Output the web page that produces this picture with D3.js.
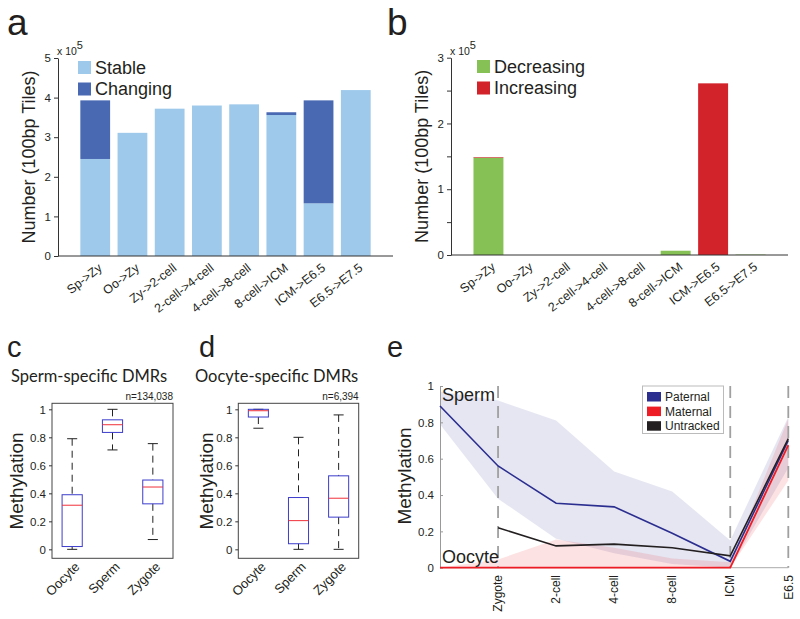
<!DOCTYPE html>
<html><head><meta charset="utf-8">
<script src="https://cdn.jsdelivr.net/npm/d3@7"></script>
<style>
body{margin:0;background:#fff}
svg{display:block}
text{font-family:"Liberation Sans",Arial,Helvetica,sans-serif;fill:#231f20}
</style>
</head><body>
<svg id="chart" width="800" height="619"></svg>
<script>
// ---------- DATA ----------
const transitions = ["Sp->Zy","Oo->Zy","Zy->2-cell","2-cell->4-cell","4-cell->8-cell","8-cell->ICM","ICM->E6.5","E6.5->E7.5"];
const stableTiles     = [2.45, 3.11, 3.72, 3.80, 3.83, 3.56, 1.33, 4.19];   // x 10^5
const changingTiles   = [1.48, 0, 0, 0, 0, 0.07, 2.60, 0];
const decreasingTiles = [1.48, 0, 0, 0, 0, 0.065, 0, 0.006];
const increasingTiles = [0.008, 0, 0, 0, 0, 0, 2.61, 0];
const aTicks = [0, 1, 2, 3, 4, 5];
const bTicks = [0, 0.5, 1, 1.5, 2, 2.5, 3];

const boxGroups = ["Oocyte", "Sperm", "Zygote"];
// [lower whisker, Q1, median, Q3, upper whisker]
const spermDMRStats  = [[0.00, 0.02, 0.315, 0.39, 0.79], [0.71, 0.835, 0.89, 0.925, 1.00], [0.07, 0.325, 0.445, 0.495, 0.755]];
const oocyteDMRStats = [[0.865, 0.945, 0.99, 1.00, 1.00], [0.00, 0.04, 0.205, 0.37, 0.80], [0.00, 0.23, 0.365, 0.525, 0.96]];
const boxTicks = [0, 0.2, 0.4, 0.6, 0.8, 1];

const stages = ["", "Zygote", "2-cell", "4-cell", "8-cell", "ICM", "E6.5"];
const dashedStages = ["Zygote", "ICM", "E6.5"];
const paternalMean  = [0.89, 0.56, 0.355, 0.335, 0.19, 0.035, 0.70];
const paternalUpper = [0.97, 0.92, 0.81, 0.53, 0.42, 0.15, 0.83];
const paternalLower = [0.79, 0.38, 0.16, 0.08, 0.02, 0.0, 0.55];
const maternalMean  = [0, 0, 0, 0, 0, 0, 0.675];
const maternalUpper = [0, 0.045, 0.155, 0.11, 0.05, 0.03, 0.82];
const maternalLower = [0, 0, 0, 0, 0, 0, 0.48];
const untrackedMean = [null, 0.22, 0.12, 0.13, 0.11, 0.065, 0.71];
const eTicks = [0, 0.2, 0.4, 0.6, 0.8, 1];
const eLegend = ["Paternal", "Maternal", "Untracked"];

// ---------- STYLE ----------
const C = {
  stable: "#9ec9eb", changing: "#4a69b3",
  decreasing: "#86c155", increasing: "#d2232a",
  box: "#3c3ccc", median: "#f0313a",
  paternal: "#2b2e8f", maternal: "#ee1c25", untracked: "#231f20",
  axis: "#333", gray: "#a0a0a0"
};
const svg = d3.select("#chart");

function panelLetter(t, x, y, size) {
  svg.append("text").attr("x", x).attr("y", y).attr("font-size", size).text(t);
}
function styleAxis(g, color) {
  g.selectAll("path,line").attr("stroke", color || C.axis).attr("stroke-width", 1);
  g.selectAll("text").attr("font-size", 11).attr("fill", "#333");
}

// ---------- PANEL A & B: stacked bars ----------
function barPanel(opt) {
  const x = d3.scaleLinear().domain([0, 9]).range([opt.x0, opt.x1]);
  const y = d3.scaleLinear().domain([0, opt.ymax]).range([opt.y0, opt.y1]);
  const bw = x(0.8) - x(0);
  const g = svg.append("g");
  transitions.forEach((t, i) => {
    const base = opt.bottom[i], top = opt.top[i];
    g.append("rect").attr("x", x(i + 1) - bw / 2).attr("width", bw)
      .attr("y", y(base)).attr("height", y(0) - y(base)).attr("fill", opt.colors[0]);
    if (top > 0) g.append("rect").attr("x", x(i + 1) - bw / 2).attr("width", bw)
      .attr("y", y(base + top)).attr("height", Math.max(y(base) - y(base + top), 0.6)).attr("fill", opt.colors[1]);
  });
  const ya = g.append("g").attr("transform", `translate(${opt.x0},0)`)
    .call(d3.axisLeft(y).tickValues(opt.ticks).tickSize(4).tickSizeOuter(0)
      .tickFormat(d => Number.isInteger(d) ? d : ""));
  styleAxis(ya);
  ya.selectAll("text").attr("font-size", 11.5);
  g.append("line").attr("x1", opt.x0).attr("x2", opt.x1).attr("y1", opt.y0).attr("y2", opt.y0)
    .attr("stroke", C.axis);
  transitions.forEach((t, i) => {
    g.append("text").attr("transform", `translate(${x(i + 1) + 5},${opt.y0 + 10}) rotate(-38)`)
      .attr("text-anchor", "end").attr("dy", "0.35em").attr("font-size", 12.5).attr("fill", "#333").text(t);
  });
  // multiplier
  const m = g.append("text").attr("x", opt.x0 - 1).attr("y", opt.y1 - 3).attr("font-size", 10.5).attr("fill", "#333");
  m.append("tspan").text("x 10");
  m.append("tspan").attr("dy", -6).attr("font-size", 11).text("5");
  // y label
  g.append("text").attr("transform", `translate(${opt.labelX},${(opt.y0 + opt.y1) / 2}) rotate(-90)`)
    .attr("text-anchor", "middle").attr("font-size", 18).text("Number (100bp Tiles)");
  // legend
  opt.legend.forEach((name, i) => {
    g.append("rect").attr("x", opt.legX).attr("y", opt.legY + i * 21.5).attr("width", 13).attr("height", 13)
      .attr("fill", opt.colors[i]);
    g.append("text").attr("x", opt.legX + 17).attr("y", opt.legY + 12.5 + i * 21.5).attr("font-size", 18).text(name);
  });
}

barPanel({ x0: 58, x1: 393, y0: 256, y1: 58, ymax: 5, ticks: aTicks,
  bottom: stableTiles, top: changingTiles, colors: [C.stable, C.changing],
  legend: ["Stable", "Changing"], legX: 78, legY: 61, labelX: 35 });
barPanel({ x0: 451, x1: 788, y0: 255, y1: 57.7, ymax: 3, ticks: bTicks,
  bottom: decreasingTiles, top: increasingTiles, colors: [C.decreasing, C.increasing],
  legend: ["Decreasing", "Increasing"], legX: 477, legY: 60, labelX: 428 });
panelLetter("a", 7, 35, 37);
panelLetter("b", 387, 35, 37);

// ---------- PANEL C & D: box plots ----------
function boxPanel(opt) {
  const x = d3.scaleLinear().domain([0.5, 3.5]).range([opt.x0, opt.x1]);
  const y = d3.scaleLinear().domain([-0.064, 1.043]).range([558.3, 403.3]);
  const g = svg.append("g");
  g.append("rect").attr("x", opt.x0).attr("y", y(1.043)).attr("width", opt.x1 - opt.x0)
    .attr("height", y(-0.064) - y(1.043)).attr("fill", "none").attr("stroke", "#444");
  const ya = g.append("g").attr("transform", `translate(${opt.x0},0)`)
    .call(d3.axisLeft(y).tickValues(boxTicks).tickSize(3).tickSizeOuter(0).tickFormat(d3.format("~g")));
  ya.select(".domain").remove();
  styleAxis(ya);
  ya.selectAll("text").attr("font-size", 11.5);
  const hw = x(0.75) - x(0.5), cw = x(0.625) - x(0.5);
  opt.stats.forEach((s, i) => {
    const cx = x(i + 1);
    const [lo, q1, md, q3, hi] = s;
    g.append("line").attr("x1", cx).attr("x2", cx).attr("y1", y(hi)).attr("y2", y(q3))
      .attr("stroke", "#222").attr("stroke-dasharray", "7,5");
    g.append("line").attr("x1", cx).attr("x2", cx).attr("y1", y(q1)).attr("y2", y(lo))
      .attr("stroke", "#222").attr("stroke-dasharray", "7,5");
    [lo, hi].forEach(v => g.append("line").attr("x1", cx - cw).attr("x2", cx + cw)
      .attr("y1", y(v)).attr("y2", y(v)).attr("stroke", "#222"));
    g.append("rect").attr("x", cx - hw).attr("width", 2 * hw).attr("y", y(q3))
      .attr("height", Math.max(y(q1) - y(q3), 0.5)).attr("fill", "none").attr("stroke", C.box);
    g.append("line").attr("x1", cx - hw).attr("x2", cx + hw).attr("y1", y(md)).attr("y2", y(md))
      .attr("stroke", C.median);
    g.append("text").attr("transform", `translate(${cx + 5},${y(-0.064) + 6}) rotate(-45)`)
      .attr("text-anchor", "end").attr("dy", "0.35em").attr("font-size", 13).text(boxGroups[i]);
  });
  g.append("text").attr("x", opt.x1).attr("y", 400).attr("text-anchor", "end").attr("font-size", 10)
    .attr("fill", "#333").text(opt.n);
  g.append("text").attr("x", opt.titleX).attr("y", 382).attr("font-size", 16.5)
    .style("font-family", "Lato, 'Open Sans', sans-serif").text(opt.title);
  g.append("text").attr("transform", `translate(${opt.labelX},481) rotate(-90)`)
    .attr("text-anchor", "middle").attr("font-size", 19).text("Methylation");
}
boxPanel({ x0: 52, x1: 173, stats: spermDMRStats, n: "n=134,038", title: "Sperm-specific DMRs", titleX: 11, labelX: 23 });
boxPanel({ x0: 238.3, x1: 358.7, stats: oocyteDMRStats, n: "n=6,394", title: "Oocyte-specific DMRs", titleX: 195, labelX: 213 });
panelLetter("c", 7, 357, 29);
panelLetter("d", 199, 357, 29);
panelLetter("e", 387, 357, 29);

// ---------- PANEL E: trajectories ----------
(function () {
  const x = d3.scaleLinear().domain([0, 6]).range([440, 788.3]);
  const y = d3.scaleLinear().domain([0, 1]).range([567.7, 386]);
  const g = svg.append("g");
  const area = (up, lo) => d3.area().x((d, i) => x(i)).y0((d, i) => y(lo[i])).y1((d, i) => y(up[i]))(up);
  g.append("path").attr("d", area(paternalUpper, paternalLower)).attr("fill", C.paternal).attr("fill-opacity", 0.12);
  g.append("path").attr("d", area(maternalUpper, maternalLower)).attr("fill", C.maternal).attr("fill-opacity", 0.13);
  dashedStages.forEach(s => {
    const xi = x(stages.indexOf(s));
    g.append("line").attr("x1", xi).attr("x2", xi).attr("y1", y(1)).attr("y2", y(0))
      .attr("stroke", C.gray).attr("stroke-width", 1.8).attr("stroke-dasharray", "12,8");
  });
  // axes
  const ya = g.append("g").attr("transform", "translate(440,0)")
    .call(d3.axisLeft(y).tickValues(eTicks).tickSize(-3).tickSizeOuter(0).tickFormat(d3.format("~g")).tickPadding(6));
  styleAxis(ya, "#999");
  ya.selectAll("text").attr("font-size", 11.5);
  g.append("line").attr("x1", 440).attr("x2", 788.3).attr("y1", y(0)).attr("y2", y(0)).attr("stroke", "#aaa");
  stages.forEach((s, i) => {
    if (!s) return;
    g.append("text").attr("transform", `translate(${x(i)},575) rotate(-90)`)
      .attr("text-anchor", "end").attr("dy", "0.35em").attr("font-size", 12).attr("fill", "#333").text(s);
  });
  const line = d3.line().defined(d => d != null).x((d, i) => x(i)).y(d => y(d));
  g.append("path").attr("d", line(paternalMean)).attr("fill", "none").attr("stroke", C.paternal).attr("stroke-width", 1.6);
  g.append("path").attr("d", line(untrackedMean)).attr("fill", "none").attr("stroke", C.untracked).attr("stroke-width", 1.6);
  g.append("path").attr("d", line(maternalMean)).attr("fill", "none").attr("stroke", C.maternal).attr("stroke-width", 1.8);
  g.append("text").attr("x", 442).attr("y", 401).attr("font-size", 18).text("Sperm");
  g.append("text").attr("x", 442).attr("y", 563).attr("font-size", 18).text("Oocyte");
  g.append("text").attr("transform", `translate(411,476) rotate(-90)`)
    .attr("text-anchor", "middle").attr("font-size", 19).text("Methylation");
  // legend
  const lg = g.append("g");
  lg.append("rect").attr("x", 642.5).attr("y", 386).attr("width", 81).attr("height", 47.5)
    .attr("fill", "#fff").attr("stroke", "#bbb");
  const lc = [C.paternal, C.maternal, C.untracked];
  eLegend.forEach((n, i) => {
    lg.append("rect").attr("x", 647).attr("y", 392 + i * 14.6).attr("width", 14).attr("height", 9.5).attr("fill", lc[i]);
    lg.append("text").attr("x", 665).attr("y", 401 + i * 14.6).attr("font-size", 12).text(n);
  });
})();
</script>
</body></html>
